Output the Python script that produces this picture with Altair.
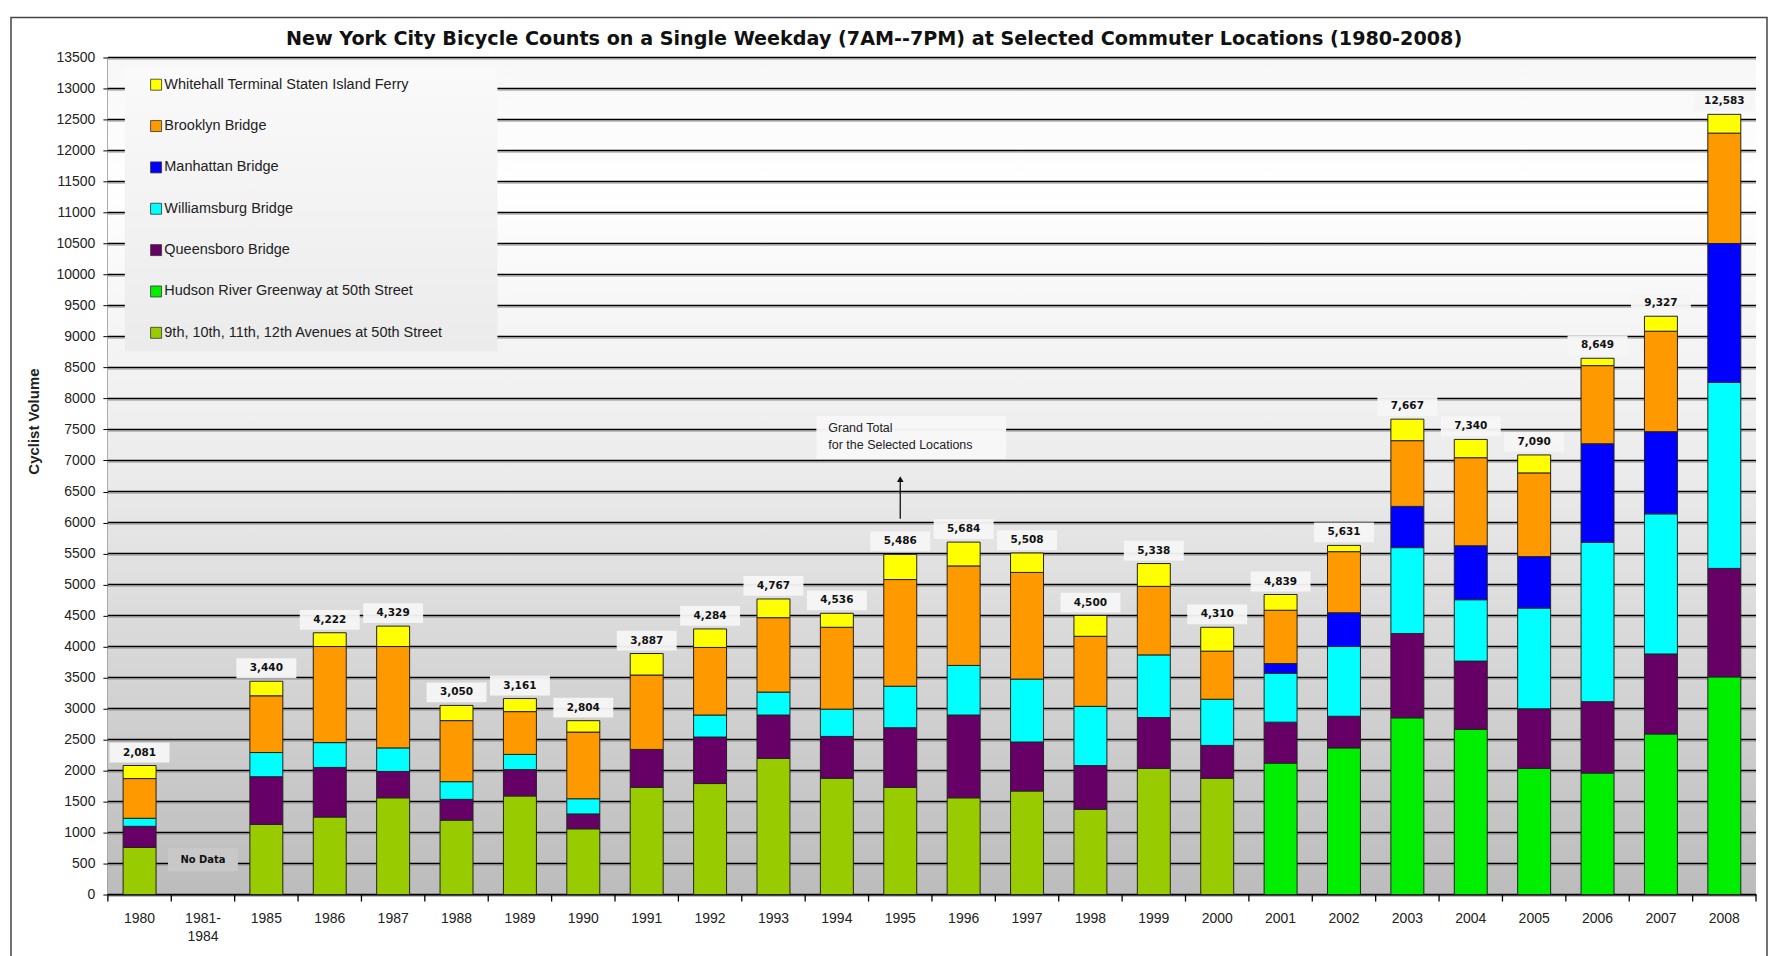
import altair as alt
import pandas as pd

categories = ["1980", "1981-1984", "1985", "1986", "1987", "1988", "1989", "1990",
              "1991", "1992", "1993", "1994", "1995", "1996", "1997", "1998", "1999",
              "2000", "2001", "2002", "2003", "2004", "2005", "2006", "2007", "2008"]

avenues = [760, 0, 1130, 1250, 1560, 1200, 1590, 1060, 1730, 1790, 2195, 1875, 1730,
           1560, 1670, 1375, 2035, 1875, 0, 0, 0, 0, 0, 0, 0, 0]
hudson = [0, 0, 0, 0, 0, 0, 0, 0, 0, 0, 0, 0, 0, 0, 0, 0, 0, 0,
          2120, 2365, 2850, 2665, 2035, 1960, 2590, 3510]
queensboro = [340, 0, 770, 800, 425, 335, 425, 240, 610, 750, 700, 675, 960, 1335, 790,
              705, 820, 530, 660, 510, 1360, 1100, 960, 1150, 1290, 1750]
williamsburg = [130, 0, 390, 400, 380, 285, 245, 245, 0, 355, 370, 440, 670, 800, 1015,
                955, 1010, 745, 790, 1125, 1385, 990, 1625, 2570, 2260, 3000]
manhattan = [0, 0, 0, 0, 0, 0, 0, 0, 0, 0, 0, 0, 0, 0, 0, 0, 0, 0,
             155, 545, 665, 870, 830, 1590, 1325, 2240]
brooklyn = [640, 0, 915, 1550, 1635, 985, 690, 1075, 1200, 1090, 1200, 1320, 1720, 1605,
            1720, 1130, 1105, 775, 860, 985, 1060, 1420, 1350, 1260, 1620, 1780]
ferry = [211, 0, 235, 222, 329, 245, 211, 184, 347, 299, 302, 226, 406, 384, 313, 335,
         368, 385, 254, 101, 347, 295, 290, 119, 242, 303]

series_names = ["9th, 10th, 11th, 12th Avenues at 50th Street",
                "Hudson River Greenway at 50th Street",
                "Queensboro Bridge",
                "Williamsburg Bridge",
                "Manhattan Bridge",
                "Brooklyn Bridge",
                "Whitehall Terminal Staten Island Ferry"]
series_colors = ["#99cc00", "#00ee00", "#660066", "#00ffff", "#0000ff", "#ff9900", "#ffff00"]
series_values = [avenues, hudson, queensboro, williamsburg, manhattan, brooklyn, ferry]

title_text = ("New York City Bicycle Counts on a Single Weekday (7AM--7PM) "
              "at Selected Commuter Locations (1980-2008)")
no_data_cat = "1981-1984"
note_lines = ["Grand Total", "for the  Selected Locations"]
note_cat = "1995"

W, H = 1650, 838

rows = []
for o, (name, vals) in enumerate(zip(series_names, series_values)):
    for c, v in zip(categories, vals):
        if v > 0:
            rows.append({"cat": c, "series": name, "value": v, "ord": o})
df = pd.DataFrame(rows)

totals = [sum(s[i] for s in series_values) for i in range(len(categories))]
tot_df = pd.DataFrame([{"cat": c, "total": t, "label": f"{t:,}"}
                       for c, t in zip(categories, totals) if t > 0])

grid_df = pd.DataFrame({"g": list(range(0, 13501, 500))})
one = pd.DataFrame({"k": [0]})

xscale = alt.Scale(domain=categories, paddingInner=0.48, paddingOuter=0.24)
yscale = alt.Scale(domain=[0, 13500], nice=False, zero=True)

xaxis = alt.Axis(title=None, labelFont="Liberation Sans", labelFontSize=14, labelColor="#222",
                 ticks=False, domainColor="#000", domainWidth=1.5, labelPadding=17,
                 labelLineHeight=18, labelAngle=0, grid=False,
                 labelExpr="datum.value == '1981-1984' ? ['1981-', '1984'] : datum.value")
yaxis = alt.Axis(title="Cyclist Volume", values=list(range(0, 13501, 500)), format="d",
                 grid=False, tickSize=5, tickColor="#000", domainColor="#000",
                 domainWidth=1.5, labelFont="Liberation Sans", labelFontSize=14,
                 labelColor="#222", labelPadding=8, titleFont="Liberation Sans",
                 titleFontSize=15, titleFontWeight="bold", titleColor="#222",
                 titleX=-66, titleY=364)


def X():
    return alt.X("cat:N", sort=categories, scale=xscale, axis=xaxis)


def Y(field, **kw):
    return alt.Y(field, scale=yscale, axis=yaxis, **kw)


bg_grad = {"gradient": "linear", "x1": 0, "y1": 0, "x2": 0, "y2": 1,
           "stops": [{"offset": 0, "color": "#f7f7f7"},
                     {"offset": 0.15, "color": "#ffffff"},
                     {"offset": 0.5, "color": "#ebebeb"},
                     {"offset": 1, "color": "#bcbcbc"}]}
leg_grad = {"gradient": "linear", "x1": 0, "y1": 0, "x2": 0, "y2": 1,
            "stops": [{"offset": 0, "color": "#fafafa"},
                      {"offset": 1, "color": "#ebebeb"}]}

bg = alt.Chart(one).mark_rect(color=bg_grad).encode(
    x=alt.value(0), x2=alt.value(W), y=alt.value(0), y2=alt.value(H))

grid_shadow = alt.Chart(grid_df).mark_rule(color="#9a9a9a", strokeWidth=1, yOffset=1.6).encode(
    y=Y("g:Q"))
grid = alt.Chart(grid_df).mark_rule(color="#000", strokeWidth=1.4).encode(y=Y("g:Q"))

legend_box = alt.Chart(one).mark_rect(color=leg_grad).encode(
    x=alt.value(17), x2=alt.value(390), y=alt.value(11), y2=alt.value(294))

box_shape = "M-1,-0.33L1,-0.33L1,0.33L-1,0.33Z"
label_boxes = alt.Chart(tot_df).mark_point(
    shape=box_shape, size=3600, filled=True, color="#f6f6f6", opacity=0.95,
    strokeWidth=0, yOffset=-13).encode(x=X(), y=Y("total:Q"))

bars = alt.Chart(df).mark_bar(stroke="#222", strokeWidth=1).encode(
    x=X(),
    y=Y("value:Q", stack="zero"),
    color=alt.Color("series:N",
                    scale=alt.Scale(domain=series_names[::-1], range=series_colors[::-1]),
                    legend=alt.Legend(title=None, orient="none", legendX=41, legendY=20,
                                      symbolType="square", symbolSize=121,
                                      symbolStrokeColor="#333", symbolStrokeWidth=0.8,
                                      labelFont="Liberation Sans", labelFontSize=14.5,
                                      labelColor="#222", rowPadding=25.4, padding=0,
                                      labelOffset=1, labelLimit=400)),
    order=alt.Order("ord:Q"))

labels = alt.Chart(tot_df).mark_text(
    font="DejaVu Sans", fontSize=10.5, fontWeight="bold", color="#111",
    baseline="middle", dy=-13).encode(x=X(), y=Y("total:Q"), text="label:N")

nd_df = pd.DataFrame([{"cat": no_data_cat, "y": 560, "t": "No Data"}])
nd_box = alt.Chart(nd_df).mark_point(
    shape=box_shape, size=4900, filled=True, color="#c8c8c8", opacity=1,
    strokeWidth=0).encode(x=X(), y=Y("y:Q"))
nd_text = alt.Chart(nd_df).mark_text(
    font="DejaVu Sans", fontSize=10, fontWeight="bold", color="#111",
    baseline="middle").encode(x=X(), y=Y("y:Q"), text="t:N")

note_df = pd.DataFrame([{"cat": note_cat, "y": 7518, "t": note_lines[0]},
                        {"cat": note_cat, "y": 7245, "t": note_lines[1]}])
note_box_df = pd.DataFrame([{"cat": note_cat, "y": 7372}])
note_box = alt.Chart(note_box_df).mark_point(
    shape="M-1,-0.226L1,-0.226L1,0.226L-1,0.226Z", size=36100, filled=True,
    color="#f7f7f7", opacity=0.97, strokeWidth=0, xOffset=11).encode(x=X(), y=Y("y:Q"))
note_text = alt.Chart(note_df).mark_text(
    font="Liberation Sans", fontSize=12.5, color="#222", align="left",
    baseline="middle", xOffset=-72).encode(x=X(), y=Y("y:Q"), text="t:N")

arrow_df = pd.DataFrame([{"cat": note_cat, "y": 6060, "y2": 6700}])
arrow_line = alt.Chart(arrow_df).mark_rule(color="#111", strokeWidth=1.3).encode(
    x=X(), y=Y("y:Q"), y2="y2:Q")
arrow_head = alt.Chart(arrow_df).mark_point(
    shape="triangle-up", size=45, filled=True, color="#111", opacity=1).encode(
    x=X(), y=Y("y2:Q"))

tick_df = pd.DataFrame({"cat": categories})
ticks = alt.Chart(tick_df).mark_rule(color="#000", strokeWidth=1.3, xOffset=-W / 52).encode(
    x=X(), y=alt.value(H), y2=alt.value(H + 7))
end_tick = alt.Chart(pd.DataFrame({"cat": [categories[-1]]})).mark_rule(
    color="#000", strokeWidth=1.3, xOffset=W / 52).encode(
    x=X(), y=alt.value(H), y2=alt.value(H + 7))

title_df = pd.DataFrame([{"t": title_text}])
title = alt.Chart(title_df).mark_text(
    font="DejaVu Sans", fontSize=19.2, fontWeight="bold", color="#111",
    align="center", baseline="middle").encode(
    x=alt.value(W / 2 - 58), y=alt.value(-18), text="t:N")

frame = alt.Chart(one).mark_rect(fillOpacity=0, stroke="#444", strokeWidth=1.5).encode(
    x=alt.value(-97), x2=alt.value(W + 11), y=alt.value(-40), y2=alt.value(H + 200))

chart = alt.layer(
    bg, grid_shadow, grid, legend_box, label_boxes, nd_box, note_box, bars,
    labels, nd_text, note_text, arrow_line, arrow_head, ticks, end_tick, title, frame
).properties(
    width=W, height=H,
    autosize=alt.AutoSizeParams(type="none"),
    padding={"left": 100, "top": 49, "right": 12, "bottom": 61},
    background="white",
).configure_view(strokeWidth=0)

chart.save("out.html", embed_options={"renderer": "svg", "actions": False})
